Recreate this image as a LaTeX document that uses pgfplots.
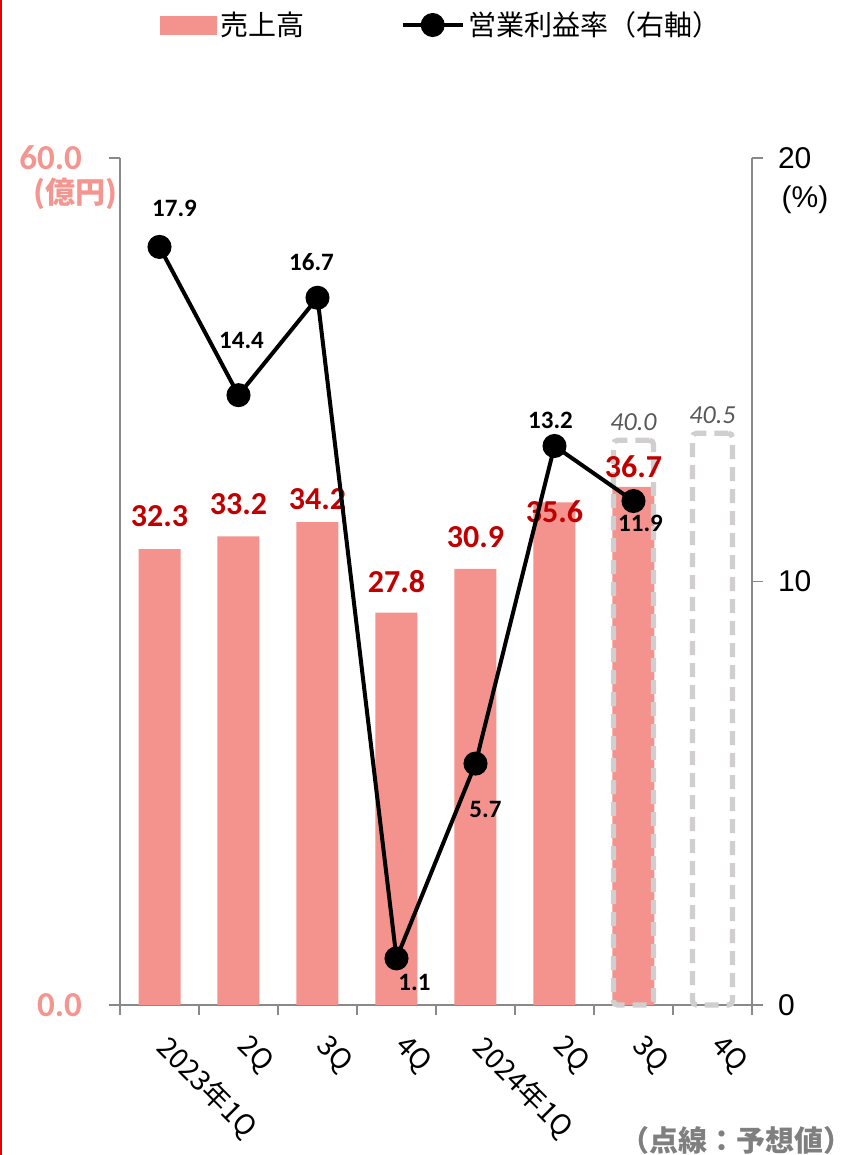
\documentclass[border=0pt]{standalone}
\usepackage{fontspec}
\usepackage{pgfplots}
\usepackage{pgfplotstable}
\pgfplotsset{compat=1.18}
\setmainfont{Carlito}
\newfontfamily\cjk{Noto Sans CJK JP}
\newfontfamily\arial{Liberation Sans}

\definecolor{barpink}{HTML}{F4938E}
\definecolor{leftpink}{HTML}{F5958F}
\definecolor{labred}{HTML}{C00000}
\definecolor{axisgrey}{HTML}{898989}
\definecolor{boxgrey}{HTML}{D0CECE}
\definecolor{numgrey}{HTML}{595959}
\definecolor{notegrey}{HTML}{7F7F7F}
\definecolor{edgered}{HTML}{E00000}

% sales (left axis), label shift above bar top in pt
\pgfplotstableread{
x y lab dy
0 32.3 32.3 16.5
1 33.2 33.2 16
2 34.2 34.2 11.5
3 27.8 27.8 15.5
4 30.9 30.9 16
5 35.6 35.6 -4.5
6 36.7 36.7 10
}\sales

% forecast (dashed boxes)
\pgfplotstableread{
x y lab
6 40.0 40.0
7 40.5 40.5
}\forecast

% operating margin (right axis)
\pgfplotstableread{
x y lab dx dy
0 17.9 17.9 7.5 19.5
1 14.4 14.4 1.5 27.5
2 16.7 16.7 -3 18
3 1.1 1.1 9 -12
4 5.7 5.7 5 -23
5 13.2 13.2 -2 13
6 11.9 11.9 3.5 -11
}\margin

\begin{document}
\begin{tikzpicture}
\useasboundingbox (0,0) rectangle (429pt,577.5pt);
\draw[edgered, line width=1.2pt] (0.6pt,0pt) -- (0.6pt,577.5pt);

\pgfplotsset{common/.style={
  scale only axis, width=316pt, height=423.5pt,
  at={(60pt,75pt)}, anchor=south west,
  xmin=-0.5, xmax=7.5, clip=false, tick align=outside,
  axis line style={axisgrey, line width=0.75pt},
  major tick length=5.5pt,
  /pgf/number format/assume math mode=true,
}}

\begin{axis}[common,
  ymin=0, ymax=60,
  axis y line*=left, axis x line*=bottom,
  ytick={0,60}, yticklabels={0.0,60.0},
  y tick style={axisgrey, line width=0.75pt},
  yticklabel style={font=\bfseries\fontsize{17.5}{20}\selectfont, text=leftpink, anchor=east, xshift=-10pt},
  xtick={0,...,7},
  xticklabels={2023年1Q,2Q,3Q,4Q,2024年1Q,2Q,3Q,4Q},
  major x tick style={draw=none},
  minor xtick={-0.5,0.5,...,7.5},
  minor x tick style={axisgrey, line width=0.75pt},
  minor tick length=5pt,
  xticklabel style={font=\cjk\fontsize{14}{16}\selectfont, rotate=-45, anchor=north west, xshift=7pt, yshift=2pt},
]
\addplot[ybar, bar width=21pt, bar shift=0pt, fill=barpink, draw=none,
  point meta=explicit symbolic,
  visualization depends on={\thisrow{dy} \as \dy},
  nodes near coords,
  every node near coord/.append style={anchor=center, yshift=\dy pt, text=labred, font=\bfseries\fontsize{16}{18}\selectfont},
] table[x=x, y=y, meta=lab] {\sales};
\addplot[ybar, bar width=20pt, bar shift=0pt, fill=none, draw=boxgrey, line width=2.6pt,
  dash pattern=on 7pt off 4pt, rounded corners=2pt,
  point meta=explicit symbolic,
  nodes near coords,
  every node near coord/.append style={anchor=center, yshift=9pt, text=numgrey, font=\itshape\fontsize{13}{15}\selectfont},
] table[x=x, y=y, meta=lab] {\forecast};
\node[font=\cjk\bfseries\fontsize{15}{17}\selectfont, text=leftpink] at (rel axis cs:0,1) [xshift=-22pt, yshift=-18pt] {(億円)};
\end{axis}

\begin{axis}[common,
  ymin=0, ymax=20,
  axis y line*=right, axis x line=none,
  ytick={0,10,20},
  y tick style={axisgrey, line width=0.75pt},
  yticklabel style={font=\arial\fontsize{15}{18}\selectfont, anchor=west, xshift=4pt},
  legend style={at={(0.51,1.157)}, anchor=center, draw=none, fill=none,
    legend columns=2, font=\cjk\fontsize{14}{16}\selectfont,
    /tikz/every even column/.append style={column sep=46pt}},
]
\addlegendimage{legend image code/.code={\fill[barpink] (0pt,-4.5pt) rectangle (28pt,4.5pt);}}
\addlegendentry{売上高}
\addplot[black, line width=2pt, mark=*, mark size=5pt,
  mark options={fill=black},
  legend image code/.code={\draw[black, line width=2pt] (0pt,0pt) -- (30pt,0pt); \fill[black] (15pt,0pt) circle (5pt);},
  point meta=explicit symbolic,
  visualization depends on={\thisrow{dx} \as \dx},
  visualization depends on={\thisrow{dy} \as \dy},
  nodes near coords,
  every node near coord/.append style={anchor=center, xshift=\dx pt, yshift=\dy pt, text=black, font=\bfseries\fontsize{12.5}{14}\selectfont},
] table[x=x, y=y, meta=lab] {\margin};
\addlegendentry{営業利益率（右軸）}
\node[font=\arial\fontsize{15}{18}\selectfont] at (rel axis cs:1,1) [xshift=26.5pt, yshift=-21pt] {(\%)};
\end{axis}

\node[font=\cjk\bfseries\fontsize{14.5}{17}\selectfont, text=notegrey, anchor=east] at (430pt,7.5pt) {（点線：予想値）};
\end{tikzpicture}
\end{document}
